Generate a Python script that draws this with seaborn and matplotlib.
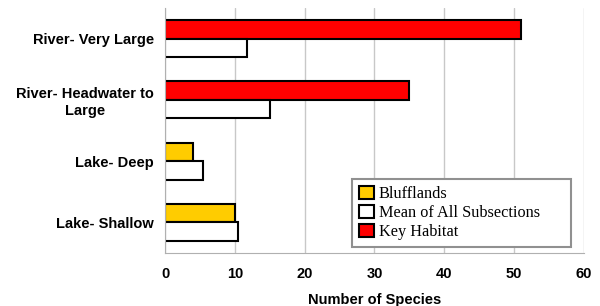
import pandas as pd
import matplotlib.pyplot as plt
import matplotlib.patches as mpatches
import seaborn as sns

# Valeurs
habitats = ["River- Very Large", "River- Headwater to\nLarge", "Lake- Deep", "Lake- Shallow"]
site_values = [51, 35, 4, 10]
mean_values = [11.7, 15.0, 5.4, 10.4]
site_series = ["Key Habitat", "Key Habitat", "Bluffands", "Bluffands"]

colors = {"Bluffands": "#FFCC00", "Mean of All Subsections": "#FFFFFF", "Key Habitat": "#FF0000"}
legend_labels = ["Blufflands", "Mean of All Subsections", "Key Habitat"]
legend_colors = ["#FFCC00", "#FFFFFF", "#FF0000"]

df = pd.DataFrame({
    "habitat": habitats * 2,
    "species": site_values + mean_values,
    "serie": ["site"] * 4 + ["mean"] * 4,
})

sns.set_style("white")
plt.rcParams["font.family"] = ["Liberation Sans", "DejaVu Sans"]
plt.rcParams["text.color"] = "black"
plt.rcParams["xtick.color"] = "black"
plt.rcParams["ytick.color"] = "black"
plt.rcParams["axes.labelcolor"] = "black"

fig = plt.figure(figsize=(6, 3.06), dpi=100)
ax = fig.add_axes([0.275, 0.173, 0.698, 0.801])

sns.barplot(data=df, y="habitat", x="species", hue="serie", orient="h",
            width=0.6, gap=0, edgecolor="black", linewidth=1.5,
            palette=["#FF0000", "#FFFFFF"], legend=False, ax=ax)

# couleur des barres "site" selon la catégorie
bars = ax.containers[0]
for patch, s in zip(bars, site_series):
    patch.set_facecolor(colors[s])

ax.set_xlim(0, 60)
ax.set_xticks(range(0, 61, 10))
ax.xaxis.grid(True, color="#C8C8C8", linewidth=1)
ax.set_axisbelow(True)
for side in ["top", "right"]:
    ax.spines[side].set_visible(False)
for side in ["left", "bottom"]:
    ax.spines[side].set_color("#B0B0B0")
ax.set_ylim(3.5, -0.5)
ax.set_yticks([i - 0.5 for i in range(5)], minor=True)
ax.tick_params(axis="y", which="major", length=0, pad=8)
ax.tick_params(axis="y", which="minor", length=4, color="#B0B0B0")
ax.tick_params(axis="x", length=4, color="#B0B0B0", pad=6)
for lab in ax.get_yticklabels():
    lab.set_fontweight("bold")
    lab.set_fontsize(10.5)
    lab.set_multialignment("center")
for lab in ax.get_xticklabels():
    lab.set_fontweight("bold")
    lab.set_fontsize(10.5)
ax.set_ylabel("")
ax.set_xlabel("Number of Species", fontweight="bold", fontsize=10.5, labelpad=9)

handles = [mpatches.Patch(facecolor=c, edgecolor="black", linewidth=1.5) for c in legend_colors]
leg = ax.legend(handles, legend_labels, loc="lower left", bbox_to_anchor=(0.446, 0.024, 0.523, 0.278),
                mode="expand", prop={"family": "Liberation Serif", "size": 11.7}, fancybox=False,
                edgecolor="#909090", framealpha=1, borderpad=0.45, labelspacing=0.15,
                handlelength=0.9, handleheight=0.9, handletextpad=0.3, borderaxespad=0)
leg.get_frame().set_linewidth(1.5)

plt.savefig("out.png", dpi=100)
